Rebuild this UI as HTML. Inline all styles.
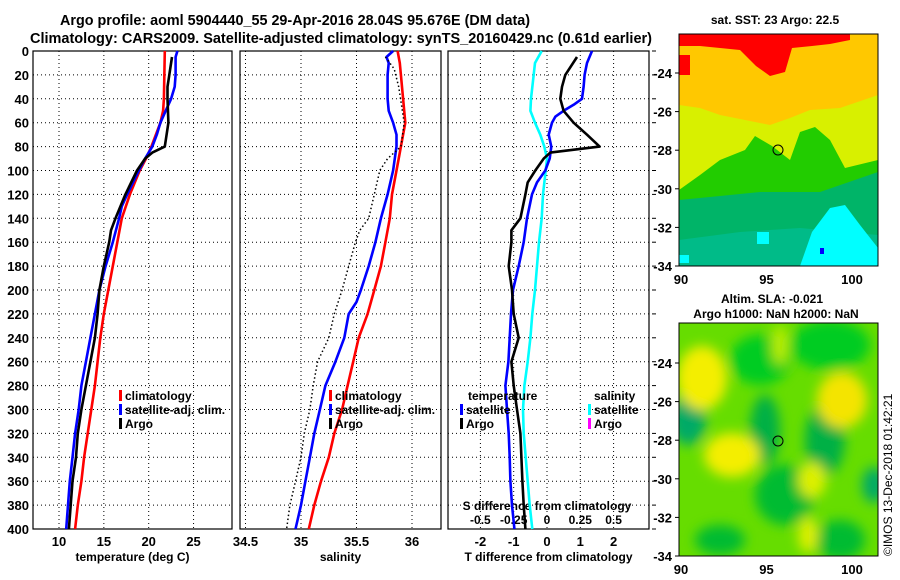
<!DOCTYPE html>
<html><head><meta charset="utf-8"><style>
html,body{margin:0;padding:0;background:#fff;}
svg{display:block;font-family:"Liberation Sans",Arial,sans-serif;font-weight:bold;}
</style></head><body>
<svg id="fig" width="900" height="580" viewBox="0 0 900 580" xmlns="http://www.w3.org/2000/svg">
<defs>
<filter id="blur1" x="-20%" y="-20%" width="140%" height="140%"><feGaussianBlur stdDeviation="6"/></filter>
<clipPath id="clipm1"><rect x="679" y="34" width="199" height="232"/></clipPath>
<clipPath id="clipm2"><rect x="679" y="323" width="199" height="233"/></clipPath>
</defs>
<text x="295" y="25" font-size="14.5" text-anchor="middle" textLength="470" lengthAdjust="spacingAndGlyphs">Argo profile: aoml 5904440_55 29-Apr-2016 28.04S 95.676E (DM data)</text>
<text x="341" y="43" font-size="14.5" text-anchor="middle" textLength="622" lengthAdjust="spacingAndGlyphs">Climatology: CARS2009. Satellite-adjusted climatology: synTS_20160429.nc (0.61d earlier)</text>
<g id="plots"></g>

<!-- SST map -->
<g clip-path="url(#clipm1)">
<rect x="679" y="34" width="199" height="232" fill="#ffc800"/>
<polygon fill="#d8f000" points="679,105 700,108 720,115 745,120 770,125 790,118 810,110 840,108 878,95 878,200 679,200"/>
<polygon fill="#ff0000" points="679,34 850,34 850,40 830,44 812,46 792,48 785,72 770,76 756,66 740,50 720,48 700,46 679,46"/>
<polygon fill="#ff0000" points="679,55 690,55 690,75 679,75"/>
<polygon fill="#22cc00" points="679,190 700,175 720,160 745,150 755,136 772,146 790,160 800,132 815,127 830,140 845,168 878,160 878,266 679,266"/>
<polygon fill="#00b468" points="679,200 720,196 760,192 820,192 878,172 878,266 679,266"/>
<polygon fill="#00bb88" points="679,240 740,232 800,228 878,235 878,266 679,266"/>
<polygon fill="#00ffff" points="800,266 812,232 830,208 845,205 860,225 878,248 878,266"/>
<rect x="679" y="255" width="10" height="8" fill="#00ffff"/>
<rect x="757" y="232" width="12" height="12" fill="#00ffff"/>
<rect x="820" y="248" width="4" height="6" fill="#0000ff"/>
</g>
<rect x="679" y="34" width="199" height="232" fill="none" stroke="#000"/>
<circle cx="778" cy="150" r="5" fill="none" stroke="#000"/>
<text x="775" y="24" font-size="12" text-anchor="middle">sat. SST: 23 Argo: 22.5</text>

<!-- SLA map -->
<g clip-path="url(#clipm2)">
<rect x="679" y="323" width="199" height="233" fill="#66dd00"/>
<g filter="url(#blur1)">
<ellipse cx="760" cy="360" rx="30" ry="25" fill="#00cc22"/>
<ellipse cx="830" cy="345" rx="40" ry="25" fill="#00cc22"/>
<ellipse cx="688" cy="420" rx="18" ry="25" fill="#00aa66"/>
<ellipse cx="765" cy="430" rx="15" ry="35" fill="#00b044"/>
<ellipse cx="825" cy="440" rx="20" ry="35" fill="#00b044"/>
<ellipse cx="785" cy="495" rx="30" ry="30" fill="#00bb33"/>
<ellipse cx="874" cy="485" rx="12" ry="18" fill="#00aa66"/>
<ellipse cx="840" cy="540" rx="25" ry="20" fill="#00bb33"/>
<ellipse cx="720" cy="540" rx="25" ry="15" fill="#00bb33"/>
<ellipse cx="702" cy="378" rx="25" ry="32" fill="#f4ee00"/>
<ellipse cx="732" cy="455" rx="28" ry="22" fill="#f4ee00"/>
<ellipse cx="842" cy="400" rx="25" ry="28" fill="#f4e400"/>
<ellipse cx="812" cy="480" rx="14" ry="18" fill="#ddf000"/>
<ellipse cx="808" cy="535" rx="10" ry="18" fill="#ddf000"/>
<ellipse cx="780" cy="345" rx="8" ry="20" fill="#bbee00"/>
</g>
</g>
<rect x="679" y="323" width="199" height="233" fill="none" stroke="#000"/>
<circle cx="778" cy="441" r="5" fill="none" stroke="#000"/>
<text x="772" y="303" font-size="12" text-anchor="middle">Altim. SLA: -0.021</text>
<text x="776" y="318" font-size="12" text-anchor="middle">Argo h1000: NaN h2000: NaN</text>
<text x="0" y="0" font-size="12" font-weight="normal" transform="translate(892,556) rotate(-90)">©IMOS 13-Dec-2018 01:42:21</text>
<g id="maps-axes"></g>
</svg>
<script>
// ---- data ----
const tempDepth = [0,40,50,60,80,90,100,120,140,160,180,200,220,240,260,280,300,320,340,360,380,400];
const tempClim = [21.8,21.7,21.6,21.3,20.3,19.7,19.0,17.9,17.0,16.5,16.0,15.5,15.0,14.6,14.3,14.0,13.6,13.2,12.8,12.5,12.1,11.8];
const tempSatDepth = [0,5,20,30,40,50,60,70,80,90,100,120,130,140,160,180,200,220,240,260,280,300,320,340,360,380,400];
const tempSat = [23.2,23.0,23.0,22.9,22.5,21.9,21.3,20.9,20.4,19.6,18.9,17.6,17.0,16.7,16.0,15.2,14.5,14.0,13.5,13.0,12.5,12.2,11.8,11.5,11.2,11.0,10.8];
const argoDepth = [5,20,30,40,60,80,85,90,100,120,140,150,160,180,200,220,240,260,280,300,320,340,360,380,400];
const tempArgo = [22.6,22.3,22.1,22.1,22.2,21.8,20.4,19.6,18.7,17.4,16.3,15.8,15.6,15.0,14.5,14.3,14.0,13.5,13.0,12.5,12.1,11.9,11.5,11.3,11.1];
const salDepth = [0,10,20,40,60,70,80,90,100,120,140,160,180,200,220,240,260,280,300,320,340,360,380,400];
const salClim = [35.87,35.89,35.90,35.92,35.94,35.92,35.90,35.88,35.86,35.82,35.80,35.76,35.72,35.66,35.60,35.52,35.47,35.42,35.37,35.30,35.25,35.18,35.12,35.07];
const salSatDepth = [0,5,10,20,40,50,60,70,80,100,120,140,160,180,200,210,220,240,260,280,300,320,340,360,380,400];
const salSat = [35.83,35.77,35.79,35.78,35.78,35.79,35.83,35.86,35.86,35.83,35.78,35.72,35.67,35.61,35.54,35.50,35.43,35.39,35.31,35.22,35.17,35.12,35.08,35.04,35.00,34.95];
const salArgoDepth = [5,15,30,60,80,90,100,120,140,150,160,180,200,220,240,260,280,300,320,340,360,380,400];
const salArgo = [35.76,35.84,35.88,35.93,35.90,35.78,35.71,35.66,35.61,35.53,35.49,35.43,35.37,35.30,35.25,35.15,35.11,35.08,35.03,35.00,34.95,34.90,34.87];
const dTSatDepth = [0,10,20,30,40,45,50,55,60,70,80,90,100,110,120,140,160,180,200,220,240,260,280,300,320,340,360,380,400];
const dTSat = [1.35,1.2,1.13,1.1,1.05,0.8,0.5,0.25,0.15,0.05,0.13,0.08,-0.05,-0.3,-0.45,-0.6,-0.7,-0.85,-1.02,-1.08,-1.12,-1.16,-1.25,-1.2,-1.15,-1.12,-1.1,-1.05,-0.98];
const dTArgoDepth = [5,20,30,40,50,60,70,80,85,90,100,110,120,140,150,160,180,200,220,240,260,280,300,320,340,360,380,400];
const dTArgo = [0.9,0.55,0.45,0.4,0.5,0.8,1.2,1.58,0.1,-0.1,-0.35,-0.58,-0.65,-0.8,-1.07,-1.07,-1.15,-1.05,-1.0,-0.85,-1.07,-1.0,-0.9,-0.8,-0.77,-0.74,-0.7,-0.65];
const dSSatDepth = [0,10,40,50,60,70,80,90,100,120,140,160,180,200,220,240,260,280,300,320,340,360,380,400];
const dSSat = [-0.04,-0.09,-0.12,-0.125,-0.09,-0.05,-0.02,0,-0.01,-0.03,-0.04,-0.06,-0.075,-0.09,-0.11,-0.125,-0.145,-0.17,-0.18,-0.175,-0.16,-0.145,-0.13,-0.11];
const depthTicks = [0,20,40,60,80,100,120,140,160,180,200,220,240,260,280,300,320,340,360,380,400];
const tempTicks = [10,15,20,25];
const salTicks = [34.5,35,35.5,36];
const dTTicks = [-2,-1,0,1,2];
const dSTicks = [-0.5,-0.25,0,0.25,0.5];
const dSTickLabels = ["-0.5","-0.25","0","0.25","0.5"];
const latTicks = [-24,-26,-28,-30,-32,-34];
const lonTicks = [90,95,100];

// ---- axes ----
const Y = d => 51 + d * 478 / 400;
const XT = t => 59 + (t - 10) * 8.97;
const XS = s => 301 + (s - 35) * 111;
const XD = v => 547 + v * 33.3;
const XDS = v => 547 + v * 133.2;
const LON = l => 681 + (l - 90) * 17.1;
const LAT1 = l => 73 + (-24 - l) * 19.3;
const LAT2 = l => 363 + (-24 - l) * 19.3;

const NS = "http://www.w3.org/2000/svg";
const g = document.getElementById('plots');
function mk(tag, attrs, parent) {
  const e = document.createElementNS(NS, tag);
  for (const k in attrs) e.setAttribute(k, attrs[k]);
  (parent || g).appendChild(e);
  return e;
}
function txt(x, y, s, anchor, size) {
  const t = mk('text', {x: x, y: y, 'font-size': size || 12, 'text-anchor': anchor || 'middle'});
  t.textContent = s;
  return t;
}
const panels = [
  {name: 'temperature', x0: 33, x1: 232, ticks: tempTicks, fx: XT, title: 'temperature (deg C)'},
  {name: 'salinity', x0: 240, x1: 441, ticks: salTicks, fx: XS, title: 'salinity'},
  {name: 'difference', x0: 448, x1: 649, ticks: dTTicks, fx: XD, title: 'T difference from climatology'}
];
panels.forEach(p => {
  const y0 = Y(0), y1 = Y(400);
  depthTicks.forEach(d => {
    const l = mk('line', {x1: p.x0, x2: p.x1, y1: Y(d), y2: Y(d), stroke: '#000', 'stroke-dasharray': '1,3', 'stroke-width': 1});
    
    
  });
  p.ticks.forEach(v => {
    const l = mk('line', {x1: p.fx(v), x2: p.fx(v), y1: y0, y2: y1, stroke: '#000', 'stroke-dasharray': '1,3'});
    
    
    const t = txt(p.fx(v), 546, String(v), 'middle', 13);
    
    
  });
  const r = mk('rect', {x: p.x0, y: y0, width: p.x1 - p.x0, height: y1 - y0, fill: 'none', stroke: '#000', 'stroke-width': 1.2});
  
  
  const t = txt((p.x0 + p.x1) / 2, 561, p.title, 'middle', 12);
  
  
});
depthTicks.forEach(d => {
  const t = txt(29, Y(d) + 5, String(d), 'end', 13);
  
  
  const l = mk('line', {x1: 652, x2: 656, y1: Y(d), y2: Y(d), stroke: '#000'});
  
  
});
dSTicks.forEach((v, i) => {
  const t = txt(XDS(v), 524, dSTickLabels[i], 'middle', 12);
  
  
});
const st = txt(547, 510, 'S difference from climatology', 'middle', 12);



function series(xs, ds, fx, color, name, dash) {
  const pts = xs.map((v, i) => fx(v).toFixed(1) + ',' + Y(ds[i]).toFixed(1)).join(' ');
  const a = {points: pts, fill: 'none', stroke: color, 'stroke-width': dash ? 1.5 : 2.6, 'stroke-linejoin': 'round'};
  if (dash) a['stroke-dasharray'] = '1.5,2.5';
  const l = mk('polyline', a);
  
  
}
series(tempClim, tempDepth, XT, '#f00', 'temp-climatology-line');
series(tempSat, tempSatDepth, XT, '#00f', 'temp-satellite-line');
series(tempArgo, argoDepth, XT, '#000', 'temp-argo-line');
series(salClim, salDepth, XS, '#f00', 'sal-climatology-line');
series(salSat, salSatDepth, XS, '#00f', 'sal-satellite-line');
series(salArgo, salArgoDepth, XS, '#000', 'sal-argo-line', true);
series(dSSat, dSSatDepth, XDS, '#00ffff', 's-diff-satellite-line');
series(dTSat, dTSatDepth, XD, '#00f', 't-diff-satellite-line');
series(dTArgo, dTArgoDepth, XD, '#000', 't-diff-argo-line');

function legend(x, y, color, label, name) {
  const r = mk('rect', {x: x, y: y - 10, width: 3, height: 11, fill: color});
  
  
  const t = txt(x + 6, y, label, 'start', 12);
  
  
}
legend(119, 400, '#f00', 'climatology', 'legend-temp-climatology');
legend(119, 414, '#00f', 'satellite-adj. clim.', 'legend-temp-satellite');
legend(119, 428, '#000', 'Argo', 'legend-temp-argo');
legend(329, 400, '#f00', 'climatology', 'legend-sal-climatology');
legend(329, 414, '#00f', 'satellite-adj. clim.', 'legend-sal-satellite');
legend(329, 428, '#000', 'Argo', 'legend-sal-argo');
const lt = txt(468, 400, 'temperature', 'start', 12);


const ls = txt(594, 400, 'salinity', 'start', 12);


legend(460, 414, '#00f', 'satellite', 'legend-t-diff-satellite');
legend(460, 428, '#000', 'Argo', 'legend-t-diff-argo');
legend(588, 414, '#00ffff', 'satellite', 'legend-s-diff-satellite');
legend(588, 428, '#ff00ff', 'Argo', 'legend-s-diff-argo');

// map axes
const ma = document.getElementById('maps-axes');
[[LAT1, 266, 'sst'], [LAT2, 556, 'sla']].forEach(([fl, bottom, nm]) => {
  latTicks.forEach(l => {
    const t = txt(672, fl(l) + 5, String(l), 'end', 13);
    ma.appendChild(t);
    
    
    const tk = mk('line', {x1: 675, x2: 679, y1: fl(l), y2: fl(l), stroke: '#000'}, ma);
    
    
  });
  lonTicks.forEach(l => {
    const t = txt(LON(l), bottom + 18, String(l), 'middle', 13);
    ma.appendChild(t);
    
    
  });
});
</script>
</body></html>
